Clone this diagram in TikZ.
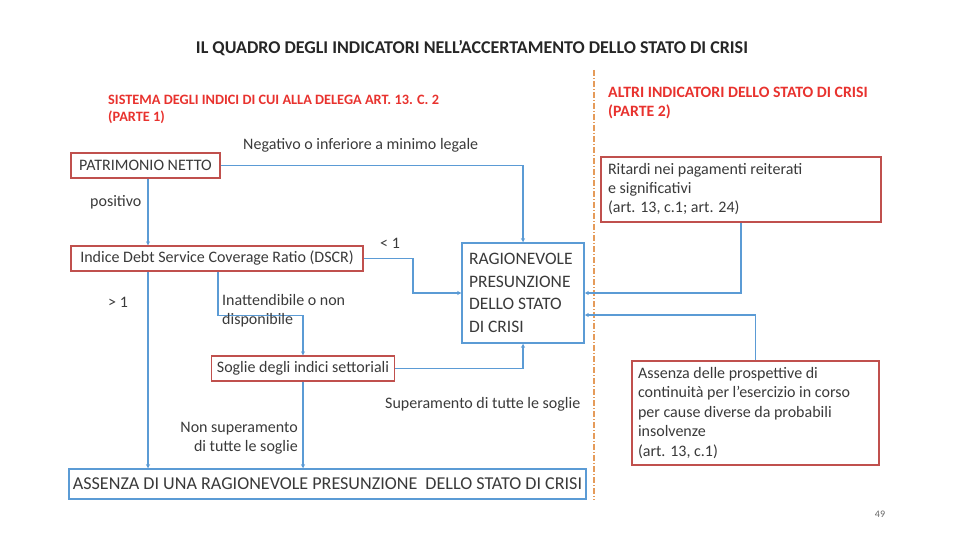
\documentclass[tikz,border=0pt]{standalone}
\usepackage{fontspec}
\setmainfont{Carlito}
\usetikzlibrary{arrows.meta}
\definecolor{boxred}{HTML}{C0504D}
\definecolor{lineblue}{HTML}{5B9BD5}
\definecolor{headred}{HTML}{E8322E}
\definecolor{sepor}{HTML}{E59B5A}
\definecolor{txt}{HTML}{3A3A3A}

\begin{document}
\begin{tikzpicture}[x=1pt,y=-1pt,
  redbox/.style={draw=boxred, line width=1.3pt, fill=white, inner sep=0pt, text=txt, font=\fontsize{16}{19}\selectfont},
  bluebox/.style={draw=lineblue, line width=1.5pt, fill=white, inner sep=0pt, text=txt, font=\fontsize{17.5}{22.5}\selectfont},
  link/.style={draw=lineblue, line width=1.4pt, -{Stealth[length=4pt,width=4pt]}},
  lbl/.style={text=txt, font=\fontsize{16}{19}\selectfont, inner sep=0pt},
  head/.style={text=headred, font=\bfseries\fontsize{14.3}{17.5}\selectfont, inner sep=0pt, align=left}]
\useasboundingbox (0,0) rectangle (960,540);

% titles
\node[font=\bfseries\fontsize{18}{20}\selectfont, text=black!85] (title) at (472,48) {IL QUADRO DEGLI INDICATORI NELL’ACCERTAMENTO DELLO STATO DI CRISI};
\node[head, anchor=base west] (head1) at (108,122) {SISTEMA DEGLI INDICI DI CUI ALLA DELEGA ART. 13. C. 2\\(PARTE 1)};
\node[head, font=\bfseries\fontsize{15.8}{19}\selectfont, anchor=base west] (head2) at (608,117) {ALTRI INDICATORI DELLO STATO DI CRISI\\(PARTE 2)};

% separator
\draw[sepor, line width=1.1pt, dash pattern=on 6pt off 2pt on 1pt off 2pt] (594,70) -- (594,500);

% boxes
\node[redbox, minimum width=149, minimum height=25] (pn) at (145.5,165.5) {PATRIMONIO NETTO};
\node[redbox, minimum width=292, minimum height=25] (dscr) at (217,258.5) {Indice Debt Service Coverage Ratio (DSCR)};
\node[redbox, minimum width=183, minimum height=25] (sog) at (303,368.5) {Soglie degli indici settoriali};
\node[bluebox, minimum width=122, minimum height=100, text width=108, align=flush left] (rps) at (523,293) {RAGIONEVOLE\\PRESUNZIONE\\DELLO STATO\\DI CRISI};
\node[bluebox, font=\fontsize{18.1}{22}\selectfont, minimum width=517, minimum height=30] (ass) at (327.5,484) {ASSENZA DI UNA RAGIONEVOLE PRESUNZIONE\ \ DELLO STATO DI CRISI};
\node[redbox, minimum width=280, minimum height=65, text width=266, align=flush left] (rit) at (741,189.5) {Ritardi nei pagamenti reiterati\\e significativi\\(art. 13, c.1; art. 24)};
\node[redbox, font=\fontsize{16}{19.5}\selectfont, minimum width=247, minimum height=104, text width=235, align=flush left] (pro) at (755.5,413) {Assenza delle prospettive di\\continuità per l’esercizio in corso\\per cause diverse da probabili\\insolvenze\\(art. 13, c.1)};

% connectors
\coordinate (xa) at (148,0);
\coordinate (xb) at (413,0);
\coordinate (xc) at (218,0);
\draw[link] (xa |- pn.south) -- (xa |- dscr.north);
\draw[link] (xa |- dscr.south) -- (xa |- ass.north);
\draw[link] (pn.east) -| (rps.north);
\draw[link] (dscr.east) -| (xb |- rps.west) -- (rps.west);
\draw[link] (xc |- dscr.south) -- ++(0,44) -| (sog.north);
\draw[link] (sog.east) -| (rps.south);
\draw[link] (sog.south) -- (sog.south |- ass.north);
\draw[link] (rit.south) |- (rps.east);
\draw[link] (pro.north) |- ([yshift=-22pt]rps.east);

% labels
\node[lbl, anchor=west] (l1) at (243,145) {Negativo o inferiore a minimo legale};
\node[lbl, anchor=west] (l2) at (90,202) {positivo};
\node[lbl, anchor=west] (l3) at (380,243) {< 1};
\node[lbl, anchor=west] (l4) at (108,302) {> 1};
\node[lbl, anchor=north west, align=left] (l5) at (222,294) {Inattendibile o non\\disponibile};
\node[lbl, anchor=west] (l6) at (385,404) {Superamento di tutte le soglie};
\node[lbl, anchor=north east, align=right] (l7) at (298,422) {Non superamento\\di tutte le soglie};
\node[text=black!60, font=\fontsize{10}{12}\selectfont] (pg) at (880,514) {49};
\end{tikzpicture}
\end{document}
